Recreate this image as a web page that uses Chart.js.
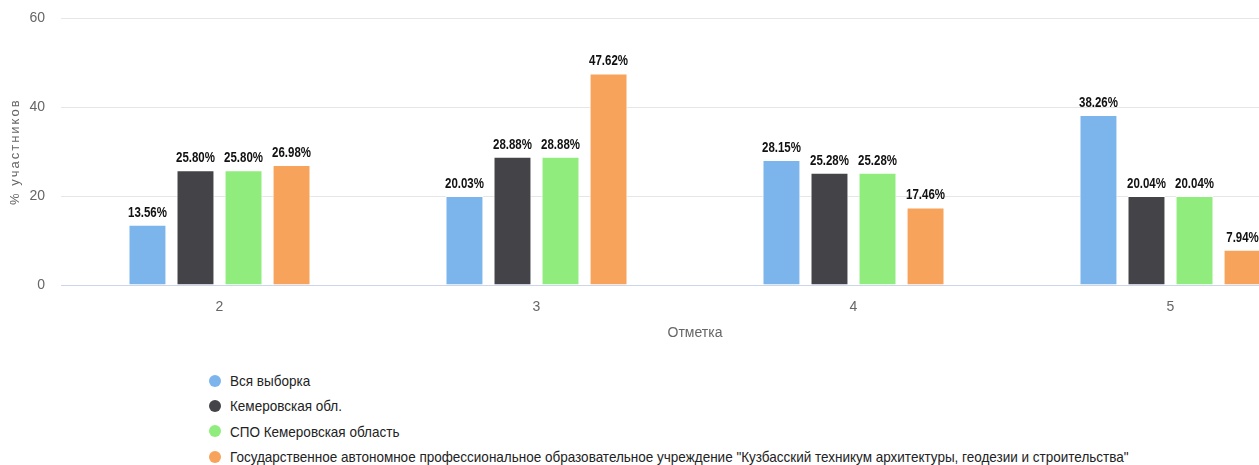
<!DOCTYPE html>
<html>
<head>
<meta charset="utf-8">
<script src="https://cdn.jsdelivr.net/npm/chart.js@4"></script>
<style>
    body { margin: 0; background: #fff; overflow: hidden; width: 1259px; height: 465px; position: relative; }
    #wrap { position: absolute; left: 0; top: -6px; width: 1340px; height: 356px; }
    #legend { position: absolute; left: 209px; top: 368px; font-family: 'Liberation Sans', Arial, sans-serif; font-size: 15px; color: #222; }
    .item { height: 25.3px; display: flex; align-items: center; white-space: nowrap; }
    .dot { width: 12px; height: 12px; border-radius: 50%; margin-right: 9px; flex: none; }
    .txt { display: inline-block; transform: scaleX(0.9); transform-origin: left center; }
</style>
</head>
<body>
<div id="wrap"><canvas id="chart"></canvas></div>
<div id="legend"></div>
<script>
// values
const categories = ['2', '3', '4', '5'];
const seriesNames = [
    'Вся выборка',
    'Кемеровская обл.',
    'СПО Кемеровская область',
    'Государственное автономное профессиональное образовательное учреждение "Кузбасский техникум архитектуры, геодезии и строительства"'
];
const allSample = [13.56, 20.03, 28.15, 38.26];
const kemerovoRegion = [25.80, 28.88, 25.28, 20.04];
const spoKemerovo = [25.80, 28.88, 25.28, 20.04];
const kuzbassTech = [26.98, 47.62, 17.46, 7.94];
const colors = ['#7cb5ec', '#434348', '#90ed7d', '#f7a35c'];
const yTitle = '% участников';
const xTitle = 'Отметка';

const FONT = "'Liberation Sans', Arial, sans-serif";

// data labels above each bar (narrowed a bit like the original)
const barLabels = {
    id: 'barLabels',
    afterDatasetsDraw(chart) {
        const ctx = chart.ctx;
        chart.data.datasets.forEach((ds, i) => {
            chart.getDatasetMeta(i).data.forEach((bar, j) => {
                ctx.save();
                ctx.font = 'bold 14px ' + FONT;
                ctx.fillStyle = '#111';
                ctx.textAlign = 'center';
                ctx.textBaseline = 'bottom';
                ctx.translate(bar.x, bar.y - 5);
                ctx.scale(0.82, 1);
                ctx.fillText(ds.data[j].toFixed(2) + '%', 0, 0);
                ctx.restore();
            });
        });
    }
};

// rotated y title with letter spacing
const yTitlePlugin = {
    id: 'yTitlePlugin',
    afterDraw(chart) {
        const ctx = chart.ctx;
        const area = chart.chartArea;
        ctx.save();
        ctx.font = '13px ' + FONT;
        ctx.fillStyle = '#666';
        ctx.letterSpacing = '2px';
        ctx.textAlign = 'center';
        ctx.textBaseline = 'middle';
        ctx.translate(15, (area.top + area.bottom) / 2);
        ctx.rotate(-Math.PI / 2);
        ctx.fillText(yTitle, 0, 0);
        ctx.restore();
    }
};

const seriesData = [allSample, kemerovoRegion, spoKemerovo, kuzbassTech];

const chart = new Chart(document.getElementById('chart'), {
    type: 'bar',
    data: {
        labels: categories,
        datasets: seriesData.map((d, i) => ({
            label: seriesNames[i],
            data: d,
            backgroundColor: colors[i],
            borderColor: '#ffffff',
            borderWidth: 1,
            barPercentage: 0.79,
            categoryPercentage: 0.606
        }))
    },
    options: {
        responsive: true,
        maintainAspectRatio: false,
        animation: false,
        layout: { padding: { top: 0, right: 11, left: 0, bottom: 0 } },
        plugins: {
            legend: { display: false },
            tooltip: { enabled: false }
        },
        scales: {
            x: {
                grid: { display: false },
                border: { display: true, color: '#ccd6eb' },
                ticks: { color: '#666', font: { family: FONT, size: 14 }, padding: 6 },
                title: {
                    display: true,
                    text: xTitle,
                    color: '#666',
                    font: { family: FONT, size: 14 },
                    padding: { top: 0, bottom: 8 }
                },
                afterFit(scale) { scale.height = 65; }
            },
            y: {
                min: 0,
                max: 60,
                ticks: { stepSize: 20, color: '#666', font: { family: FONT, size: 14 }, padding: 16 },
                grid: {
                    drawTicks: false,
                    color: c => c.tick.value === 0 ? '#ccd6eb' : '#e6e6e6'
                },
                border: { display: false },
                afterFit(scale) { scale.width = 61; }
            }
        }
    },
    plugins: [barLabels, yTitlePlugin]
});

// vertical legend under the chart
const legend = document.getElementById('legend');
legend.innerHTML = seriesNames.map((name, i) => `
    <div class="item"><span class="dot" style="background:${colors[i]}"></span><span class="txt">${name}</span></div>
`).join('');
</script>
</body>
</html>
